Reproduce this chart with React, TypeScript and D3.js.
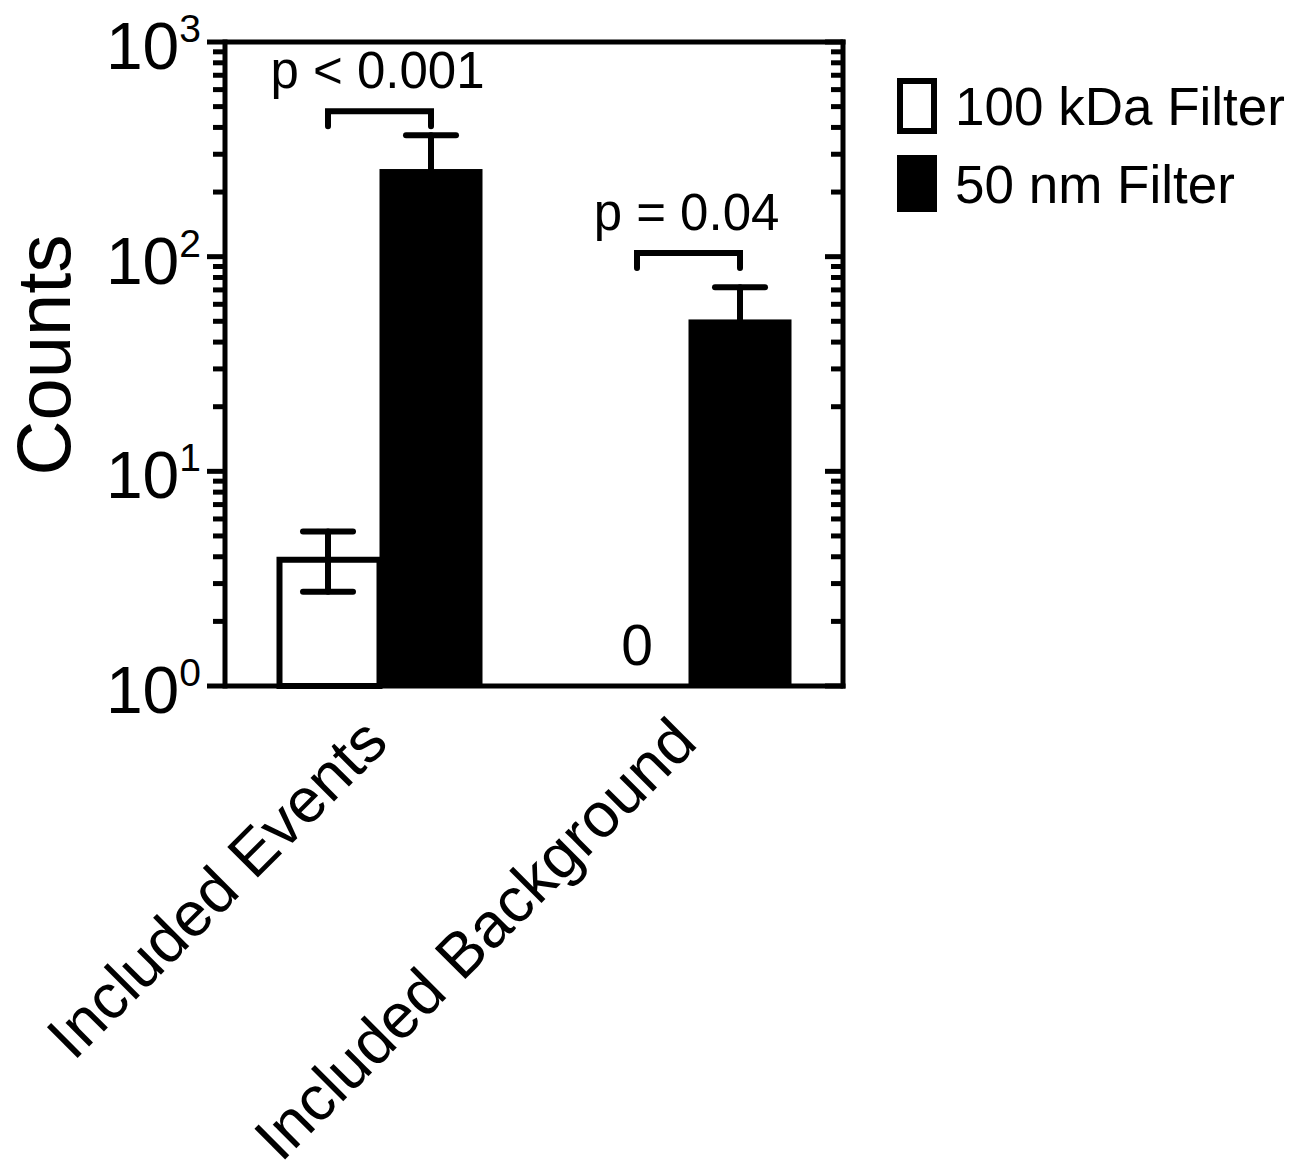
import React from "react";
import * as d3 from "d3";

const categories = ["Included Events", "Included Background"];
const series = ["100 kDa Filter", "50 nm Filter"];
const filter100 = [4, 0];
const filter100Err = [1.25, 0];
const filter50 = [256, 51];
const filter50Err = [112, 21];
const bracketValues = [476, 104];
const pLabels = ["p < 0.001", "p = 0.04"];
const majorTicks = [1, 10, 100, 1000];
const tickExponents = ["0", "1", "2", "3"];

const W = 1308;
const H = 1160;
const left = 225;
const right = 843;
const top = 42;
const bottom = 686;
const FONT = "'Liberation Sans', Arial, Helvetica, sans-serif";

export default function App() {
  const y = d3.scaleLog().domain([1, 1000]).range([bottom, top]);
  const x = d3.scaleBand<string>().domain(categories).range([left, right]).padding(0);
  const bw = x.bandwidth() / 3;
  const minor: number[] = [];
  for (let k = 0; k < 3; k++) {
    for (let m = 2; m <= 9; m++) minor.push(m * Math.pow(10, k));
  }
  const sw = 6;
  const capHalf = 25;

  return (
    <svg
      width={W}
      height={H}
      style={{ position: "absolute", left: 0, top: 0, background: "#fff" }}
      fontFamily={FONT}
    >
      <rect x={0} y={0} width={W} height={H} fill="#fff" />
      {categories.map((c, i) => {
        const cx = (x(c) as number) + x.bandwidth() / 2;
        const wc = cx - bw / 2;
        const bc = cx + bw / 2;
        return (
          <g key={c}>
            {filter100[i] > 0 && (
              <rect
                x={cx - bw + sw / 2}
                y={y(filter100[i]) + sw / 2}
                width={bw - sw / 2}
                height={bottom - y(filter100[i]) - sw / 2}
                fill="#fff"
                stroke="#000"
                strokeWidth={sw}
              />
            )}
            {filter100[i] > 0 && filter100Err[i] > 0 && (
              <g stroke="#000" strokeWidth={sw} strokeLinecap="round">
                <line x1={wc} x2={wc} y1={y(filter100[i] + filter100Err[i])} y2={y(filter100[i] - filter100Err[i])} />
                <line x1={wc - capHalf} x2={wc + capHalf} y1={y(filter100[i] + filter100Err[i])} y2={y(filter100[i] + filter100Err[i])} />
                <line x1={wc - capHalf} x2={wc + capHalf} y1={y(filter100[i] - filter100Err[i])} y2={y(filter100[i] - filter100Err[i])} />
              </g>
            )}
            {filter100[i] === 0 && (
              <text x={wc} y={bottom - 21} textAnchor="middle" fontSize={57}>
                0
              </text>
            )}
            <rect x={cx} y={y(filter50[i])} width={bw} height={bottom - y(filter50[i])} fill="#000" />
            <g stroke="#000" strokeWidth={sw} strokeLinecap="round">
              <line x1={bc} x2={bc} y1={y(filter50[i] + filter50Err[i])} y2={y(filter50[i])} />
              <line x1={bc - capHalf} x2={bc + capHalf} y1={y(filter50[i] + filter50Err[i])} y2={y(filter50[i] + filter50Err[i])} />
            </g>
            <path
              d={`M${wc},${y(bracketValues[i]) + 15}V${y(bracketValues[i])}H${bc}V${y(bracketValues[i]) + 15}`}
              fill="none"
              stroke="#000"
              strokeWidth={sw}
              strokeLinecap="round"
              strokeLinejoin="miter"
            />
            <text x={cx - 2} y={y(bracketValues[i]) - 23} textAnchor="middle" fontSize={51}>
              {pLabels[i]}
            </text>
            <text
              transform={`translate(${cx + 11},${745}) rotate(-45)`}
              textAnchor="end"
              fontSize={63}
            >
              {c}
            </text>
          </g>
        );
      })}

      <g stroke="#000" strokeWidth={5} fill="none">
        <line x1={left} x2={left} y1={top - 2.5} y2={bottom + 2.5} />
        <line x1={right} x2={right} y1={top - 2.5} y2={bottom + 2.5} />
        <line x1={left} x2={right + 2.5} y1={top} y2={top} />
        <line x1={left} x2={right + 2.5} y1={bottom} y2={bottom} />
      </g>
      <g stroke="#000" strokeWidth={5}>
        {majorTicks.map((t) => (
          <g key={"M" + t}>
            <line x1={left - 18} x2={left} y1={y(t)} y2={y(t)} />
            <line x1={right - 18} x2={right} y1={y(t)} y2={y(t)} />
          </g>
        ))}
        {minor.map((t) => (
          <g key={"m" + t}>
            <line x1={left - 12} x2={left} y1={y(t)} y2={y(t)} />
            <line x1={right - 12} x2={right} y1={y(t)} y2={y(t)} />
          </g>
        ))}
      </g>
      {majorTicks.map((t, i) => (
        <text key={"l" + t} x={201} y={y(t) + 27} textAnchor="end" fontSize={66}>
          10
          <tspan fontSize={39} dy={-27}>
            {tickExponents[i]}
          </tspan>
        </text>
      ))}
      <text transform="translate(70,355) rotate(-90)" textAnchor="middle" fontSize={76}>
        Counts
      </text>

      <rect x={900} y={81} width={34} height={50} fill="#fff" stroke="#000" strokeWidth={sw} />
      <rect x={897} y={155} width={40} height={57} fill="#000" />
      <text x={955} y={125} fontSize={53}>
        {series[0]}
      </text>
      <text x={955} y={203} fontSize={53}>
        {series[1]}
      </text>
    </svg>
  );
}
